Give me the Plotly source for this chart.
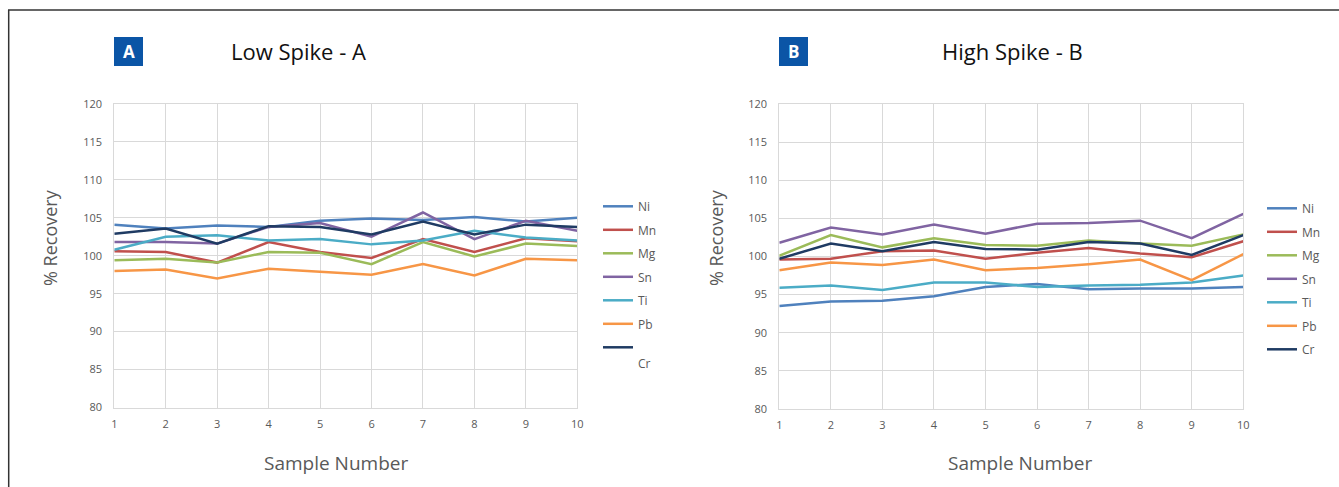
import plotly.graph_objects as go

W, H = 1339, 487
OFF = 0

samples = [1, 2, 3, 4, 5, 6, 7, 8, 9, 10]
elements = ["Ni", "Mn", "Mg", "Sn", "Ti", "Pb", "Cr"]
colors = ["#4F81BD", "#C0504D", "#9BBB59", "#8064A2", "#4BACC6", "#F79646", "#1F3B63"]

# Low Spike - A
low_ni = [104.1, 103.6, 104.0, 103.8, 104.6, 104.9, 104.7, 105.1, 104.5, 105.0]
low_mn = [100.6, 100.5, 99.1, 101.8, 100.5, 99.7, 102.2, 100.5, 102.3, 101.9]
low_mg = [99.4, 99.6, 99.1, 100.5, 100.4, 98.9, 101.8, 99.9, 101.6, 101.3]
low_sn = [101.8, 101.8, 101.6, 103.8, 104.3, 102.5, 105.7, 102.2, 104.6, 103.3]
low_ti = [100.8, 102.5, 102.7, 102.0, 102.2, 101.5, 102.0, 103.3, 102.4, 102.0]
low_pb = [98.0, 98.2, 97.0, 98.3, 97.9, 97.5, 98.9, 97.4, 99.6, 99.4]
low_cr = [102.9, 103.6, 101.6, 103.9, 103.8, 102.8, 104.5, 102.8, 104.1, 103.8]

# High Spike - B
high_ni = [93.5, 94.1, 94.2, 94.8, 96.0, 96.4, 95.7, 95.8, 95.8, 96.0]
high_mn = [99.6, 99.7, 100.7, 100.8, 99.7, 100.5, 101.1, 100.4, 99.9, 102.0]
high_mg = [100.1, 102.8, 101.2, 102.4, 101.5, 101.4, 102.1, 101.7, 101.4, 102.9]
high_sn = [101.8, 103.8, 102.9, 104.2, 103.0, 104.3, 104.4, 104.7, 102.4, 105.6]
high_ti = [95.9, 96.2, 95.6, 96.6, 96.6, 96.0, 96.2, 96.3, 96.6, 97.5]
high_pb = [98.2, 99.2, 98.9, 99.6, 98.2, 98.5, 99.0, 99.6, 96.9, 100.3]
high_cr = [99.7, 101.7, 100.7, 101.9, 101.0, 100.9, 101.9, 101.7, 100.2, 102.8]

y_ticks = [80, 85, 90, 95, 100, 105, 110, 115, 120]

low_series = [low_ni, low_mn, low_mg, low_sn, low_ti, low_pb, low_cr]
high_series = [high_ni, high_mn, high_mg, high_sn, high_ti, high_pb, high_cr]

FONT = "Open Sans"
GRAY = "#595959"
GRID = "#D9D9D9"


def px(x):
    return (x - OFF) / W


def py(y):
    return 1 - (y - OFF) / H


fig = go.Figure()

for i, (el, col) in enumerate(zip(elements, colors)):
    name = "<br>Cr" if el == "Cr" else el
    fig.add_trace(go.Scatter(
        x=samples, y=low_series[i], mode="lines", name=name,
        line=dict(color=col, width=2.5), xaxis="x", yaxis="y",
        legend="legend", legendgroup="a" + el, hoverinfo="skip",
    ))
for i, (el, col) in enumerate(zip(elements, colors)):
    fig.add_trace(go.Scatter(
        x=samples, y=high_series[i], mode="lines", name=el,
        line=dict(color=col, width=2.5), xaxis="x2", yaxis="y2",
        legend="legend2", legendgroup="b" + el, hoverinfo="skip",
    ))

axis_common = dict(
    showgrid=True, gridcolor=GRID, gridwidth=1,
    showline=True, linecolor=GRID, linewidth=1, mirror=True,
    zeroline=False, ticks="", automargin=False,
    tickfont=dict(family=FONT, size=11, color=GRAY),
)

fig.update_layout(
    width=W, height=H,
    margin=dict(l=0, r=0, t=0, b=0, autoexpand=False),
    paper_bgcolor="white", plot_bgcolor="white",
    showlegend=True,
    xaxis=dict(domain=[px(114.3), px(577.3)], range=[1, 10], tickvals=samples,
               anchor="y", ticklabelstandoff=6, **axis_common),
    yaxis=dict(domain=[py(407.5), py(104)], range=[80, 120], tickvals=y_ticks,
               anchor="x", ticklabelstandoff=9, **axis_common),
    xaxis2=dict(domain=[px(779.3), px(1243.3)], range=[1, 10], tickvals=samples,
                anchor="y2", ticklabelstandoff=6, **axis_common),
    yaxis2=dict(domain=[py(409), py(104)], range=[80, 120], tickvals=y_ticks,
                anchor="x2", ticklabelstandoff=9, **axis_common),
    legend=dict(x=px(598), y=py(192), xanchor="left", yanchor="top",
                font=dict(family=FONT, size=12, color=GRAY),
                tracegroupgap=4.5, valign="top", bgcolor="rgba(0,0,0,0)"),
    legend2=dict(x=px(1262), y=py(194), xanchor="left", yanchor="top",
                 font=dict(family=FONT, size=12, color=GRAY),
                 tracegroupgap=4.5, valign="top", bgcolor="rgba(0,0,0,0)"),
)

annotations = [
    dict(text="Low Spike - A", x=px(298), y=py(51), font=dict(family=FONT, size=22, color="#111111")),
    dict(text="High Spike - B", x=px(1012), y=py(51), font=dict(family=FONT, size=22, color="#111111")),
    dict(text="<b>A</b>", x=px(128.5), y=py(51.5), font=dict(family=FONT, size=17, color="white")),
    dict(text="<b>B</b>", x=px(793.5), y=py(51.5), font=dict(family=FONT, size=17, color="white")),
    dict(text="% Recovery", x=px(50), y=py(238), textangle=-90, font=dict(family=FONT, size=18, color=GRAY)),
    dict(text="% Recovery", x=px(716), y=py(238), textangle=-90, font=dict(family=FONT, size=18, color=GRAY)),
    dict(text="Sample Number", x=px(335.5), y=py(463), font=dict(family=FONT, size=19, color=GRAY)),
    dict(text="Sample Number", x=px(1020), y=py(463), font=dict(family=FONT, size=19, color=GRAY)),
]
for a in annotations:
    a.update(xref="paper", yref="paper", showarrow=False, xanchor="center", yanchor="middle")
fig.update_layout(annotations=annotations)

shapes = [
    dict(type="rect", x0=px(114), x1=px(143), y0=py(66), y1=py(37),
         fillcolor="#0B55A6", line=dict(width=0)),
    dict(type="rect", x0=px(779), x1=px(808), y0=py(66), y1=py(37),
         fillcolor="#0B55A6", line=dict(width=0)),
    dict(type="line", x0=px(8.7), x1=px(8.7), y0=py(10), y1=-0.05,
         line=dict(color="#333333", width=1.5)),
    dict(type="line", x0=px(8), x1=1.05, y0=py(10), y1=py(10),
         line=dict(color="#333333", width=1.5)),
]
for s in shapes:
    s.update(xref="paper", yref="paper")
fig.update_layout(shapes=shapes)

fig.write_html(
    "out.html",
    config={"displayModeBar": False},
    post_script="document.body.style.margin='0';document.body.style.overflow='hidden';",
)
